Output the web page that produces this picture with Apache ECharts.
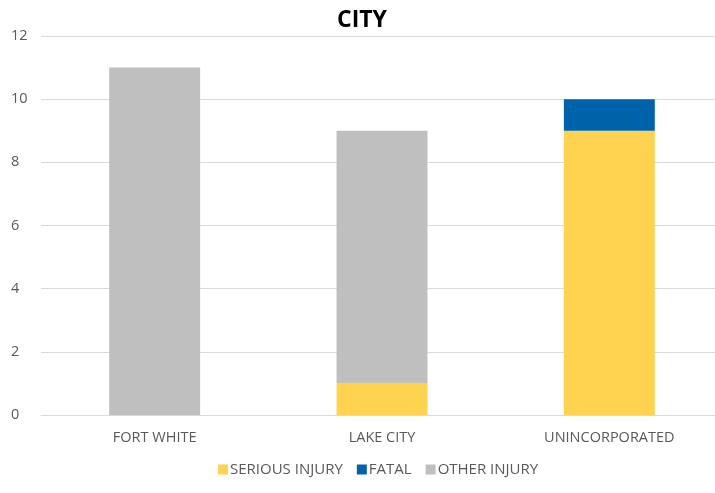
<!DOCTYPE html>
<html><head><meta charset="utf-8">
<script src="https://cdn.jsdelivr.net/npm/echarts@6/dist/echarts.min.js"></script>
<style>html,body{margin:0;padding:0;background:#fff;overflow:hidden}#c{width:724px;height:493px}</style>
</head><body><div id="c"></div>
<script>
const categories = ['FORT WHITE', 'LAKE CITY', 'UNINCORPORATED'];
const seriousInjury = [0, 1, 9];
const fatal = [0, 0, 1];
const otherInjury = [11, 8, 0];
const yTicks = [0, 2, 4, 6, 8, 10, 12];

const font = '"Open Sans", "Liberation Sans", sans-serif';
const chart = echarts.init(document.getElementById('c'));
chart.setOption({
  animation: false,
  title: { text: 'CITY', left: 'center', top: 4, textStyle: { fontFamily: font, fontSize: 23, fontWeight: 'bold', color: '#000' } },
  legend: {
    bottom: 11, left: 213, itemWidth: 10, itemHeight: 10, itemGap: 14,
    icon: 'rect',
    textStyle: { fontFamily: font, fontSize: 15, color: '#595959', padding: [0, 0, 0, -3] },
    data: ['SERIOUS INJURY', 'FATAL', 'OTHER INJURY']
  },
  grid: { left: 41, right: 1, top: 36, bottom: 78, containLabel: false },
  xAxis: {
    type: 'category', data: categories,
    axisLine: { lineStyle: { color: '#d9d9d9' } }, axisTick: { show: false },
    axisLabel: { fontFamily: font, fontSize: 14.5, color: '#595959', margin: 15 }
  },
  yAxis: {
    type: 'value', min: yTicks[0], max: yTicks[yTicks.length - 1], interval: 2,
    axisLine: { show: false }, axisTick: { show: false },
    splitLine: { lineStyle: { color: '#d9d9d9', width: 1 } },
    axisLabel: { fontFamily: font, fontSize: 14.5, color: '#595959', margin: 30, align: 'left' }
  },
  series: [
    { name: 'SERIOUS INJURY', type: 'bar', stack: 's', data: seriousInjury, barWidth: '40%', itemStyle: { color: '#FFD34F' } },
    { name: 'FATAL', type: 'bar', stack: 's', data: fatal, itemStyle: { color: '#0062A8' } },
    { name: 'OTHER INJURY', type: 'bar', stack: 's', data: otherInjury, itemStyle: { color: '#BFBFBF' } }
  ]
});
</script></body></html>
